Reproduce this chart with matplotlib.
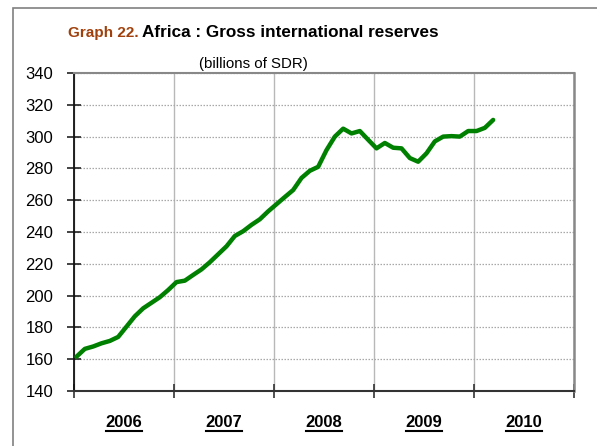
import matplotlib
matplotlib.use("Agg")
import matplotlib.pyplot as plt
from matplotlib.patches import Rectangle
from matplotlib.lines import Line2D
import numpy as np

plt.rcParams['font.family'] = ['Liberation Sans', 'DejaVu Sans']

# Monthly data, Jan 2006 .. Mar 2010 (billions of SDR)
start_year = 2006
reserves = [161.6, 166.5, 168.0, 170.0, 171.5, 174.0, 180.5, 187.0, 192.0, 195.5,
            199.0, 203.5, 208.5, 209.4, 213.0, 216.5, 221.0, 226.0, 231.0, 237.5,
            240.5, 244.5, 248.0, 253.0, 257.5, 262.0, 266.4, 274.0, 278.5, 281.0,
            291.5, 300.0, 305.0, 302.0, 303.5, 298.0, 292.6, 296.0, 293.0, 292.6,
            286.5, 284.2, 289.5, 297.0, 300.0, 300.3, 300.0, 303.5, 303.5, 305.5,
            310.5]
years = [2006, 2007, 2008, 2009, 2010]
y_ticks = [140, 160, 180, 200, 220, 240, 260, 280, 300, 320, 340]

W, H = 597, 446
fig = plt.figure(figsize=(W / 100, H / 100), dpi=100)
ax = fig.add_axes([74 / W, (H - 391) / H, 500 / W, 318 / H])

x = [start_year + (i + 0.3) / 12 for i in range(len(reserves))]
ax.plot(x, reserves, color='#008000', lw=3.2, solid_joinstyle='round',
        solid_capstyle='round', zorder=3)

ax.set_xlim(years[0], years[-1] + 1)
ax.set_ylim(y_ticks[0], y_ticks[-1])
ax.set_yticks(y_ticks)
ax.set_xticks(years + [years[-1] + 1])
ax.set_xticklabels([])
ax.set_xticks([y + 0.5 for y in years], minor=True)
ax.set_xticklabels([str(y) for y in years], minor=True, fontweight='bold', fontsize=12)

ax.tick_params(axis='y', direction='inout', length=10, width=1.2, color='#222222',
               labelsize=12, pad=10)
ax.tick_params(axis='x', which='major', direction='inout', length=10, width=1.2,
               color='#333333')
ax.tick_params(axis='x', which='minor', length=0, pad=17)

ax.grid(axis='y', color='#a8a8a8', linestyle=(0, (1.2, 1.2)), lw=0.9)
ax.grid(axis='x', which='major', color='#b8b8b8', linestyle='-', lw=1.0)
ax.set_axisbelow(True)

ax.spines['left'].set_color('#111111')
ax.spines['left'].set_linewidth(1.3)
ax.spines['bottom'].set_color('#333333')
ax.spines['bottom'].set_linewidth(1.5)
ax.spines['top'].set_color('#888888')
ax.spines['top'].set_linewidth(1.5)
ax.spines['right'].set_color('#888888')
ax.spines['right'].set_linewidth(1.8)

# outer frame
fig.patches.append(Rectangle((13 / W, -0.1), 1.2, 1 - 8 / H + 0.1,
                             transform=fig.transFigure, fill=False,
                             edgecolor='#808080', lw=1.2))

# title
fig.text(68 / W, 1 - 37 / H, 'Graph 22.', color='#A0410D', fontsize=11,
         fontweight='bold', va='baseline', ha='left')
fig.text(142 / W, 1 - 37 / H, 'Africa : Gross international reserves', color='black',
         fontsize=12.3, fontweight='bold', va='baseline', ha='left')
fig.text(253 / W, 1 - 68 / H, '(billions of SDR)', color='black', fontsize=10.8,
         va='baseline', ha='center')

# underline the year labels
fig.canvas.draw()
renderer = fig.canvas.get_renderer()
for lab in ax.get_xticklabels(minor=True):
    bb = lab.get_window_extent(renderer)
    yb = bb.y0 - 1.0
    fig.lines.append(Line2D([bb.x0 / W, bb.x1 / W], [yb / H, yb / H],
                            transform=fig.transFigure, color='black', lw=1.5))

fig.savefig('out.png', dpi=100)
